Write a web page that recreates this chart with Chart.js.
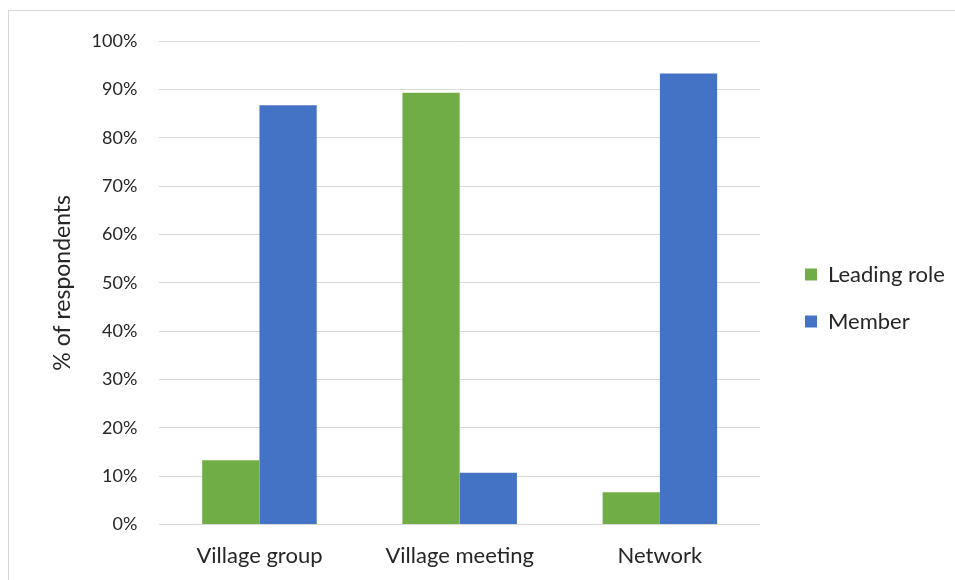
<!DOCTYPE html>
<html>
<head>
<meta charset="utf-8">
<script src="https://cdn.jsdelivr.net/npm/chart.js@4"></script>
<style>
  html, body { margin: 0; padding: 0; background: #fff; overflow: hidden; }
  #frame { position: absolute; left: 8px; top: 10px; width: 1000px; height: 620px; border: 1px solid #d9d9d9; }
  #wrap { position: absolute; left: 0; top: 0; width: 955px; height: 580px; }
</style>
</head>
<body>
<div id="frame"></div>
<div id="wrap"><canvas id="chart"></canvas></div>
<script>
// Participation type by kind of group (% of respondents)
const categories = ['Village group', 'Village meeting', 'Network'];
const leadingRole = [13.3, 89.3, 6.7];
const member = [86.7, 10.7, 93.3];
const yTicks = [0, 10, 20, 30, 40, 50, 60, 70, 80, 90, 100];

const FONT = 'Lato, "Open Sans", sans-serif';
const TEXT = '#262626';

// Legend column: fixed width beside the plot, items set in from its left edge
const LEGEND_WIDTH = 193;
const LEGEND_INSET = 45;
const LEGEND_LIFT = -16;
const legendPlacement = {
  id: 'legendPlacement',
  afterInit(chart) {
    const lg = chart.legend;
    if (!lg) return;
    const fit = lg.fit.bind(lg);
    lg.fit = function () {
      fit();
      this.width = LEGEND_WIDTH;
      this.right = this.left + LEGEND_WIDTH;
    };
    const draw = lg.draw.bind(lg);
    lg.draw = function () {
      const ctx = chart.ctx;
      ctx.save();
      ctx.translate(LEGEND_INSET - this.options.labels.padding, LEGEND_LIFT);
      draw();
      ctx.restore();
    };
  }
};

new Chart(document.getElementById('chart'), {
  type: 'bar',
  data: {
    labels: categories,
    datasets: [
      { label: 'Leading role', data: leadingRole, backgroundColor: '#70AD47' },
      { label: 'Member', data: member, backgroundColor: '#4472C4' }
    ]
  },
  options: {
    responsive: true,
    maintainAspectRatio: false,
    animation: false,
    layout: { padding: { left: 49, right: 2, top: 41, bottom: -7 } },
    datasets: { bar: { categoryPercentage: 0.572, barPercentage: 1.0 } },
    plugins: {
      tooltip: { enabled: false },
      legend: {
        position: 'right',
        align: 'center',
        labels: {
          boxWidth: 12,
          boxHeight: 12,
          padding: 25,
          color: TEXT,
          font: { family: FONT, size: 22 }
        }
      }
    },
    scales: {
      x: {
        grid: { display: false, drawTicks: false },
        border: { display: false },
        ticks: { color: TEXT, font: { family: FONT, size: 22 }, padding: 18 }
      },
      y: {
        min: 0,
        max: 100,
        afterBuildTicks: (axis) => { axis.ticks = yTicks.map(v => ({ value: v })); },
        grid: { color: '#d9d9d9', lineWidth: 1, drawTicks: false },
        border: { display: false },
        ticks: {
          color: TEXT,
          font: { family: FONT, size: 18 },
          padding: 22,
          callback: (v) => v + '%'
        },
        title: {
          display: true,
          text: '% of respondents',
          color: TEXT,
          font: { family: FONT, size: 23 },
          padding: { top: 0, bottom: -7 }
        }
      }
    }
  },
  plugins: [legendPlacement]
});
</script>
</body>
</html>
